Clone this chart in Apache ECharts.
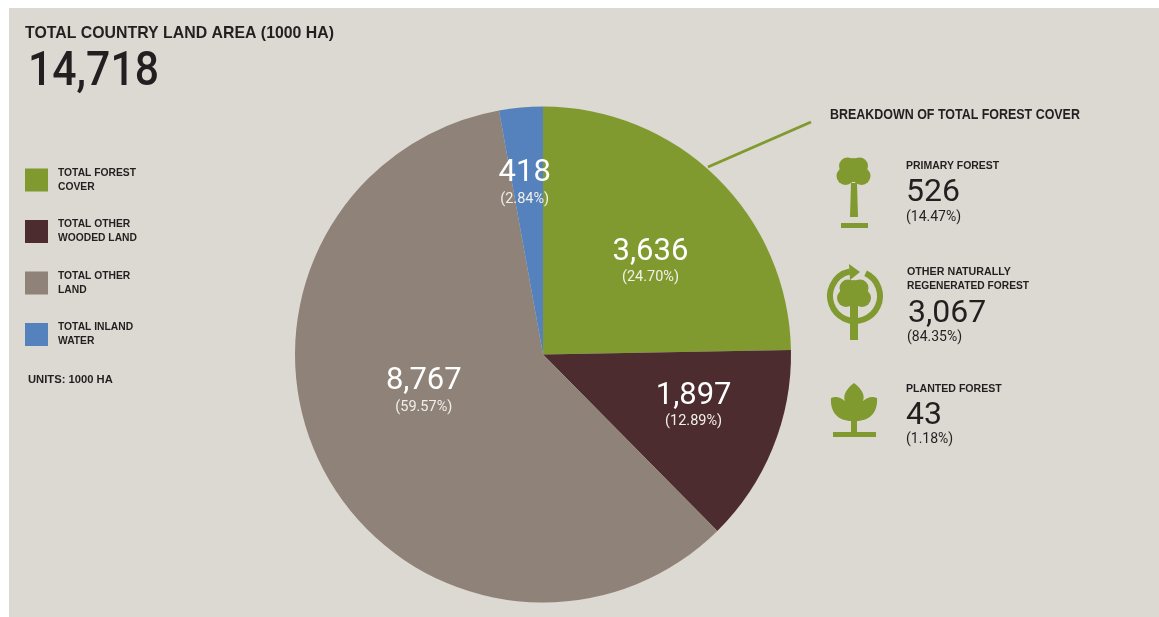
<!DOCTYPE html>
<html>
<head>
<meta charset="utf-8">
<style>
  html, body { margin: 0; padding: 0; background: #fff; }
  #main { width: 1159px; height: 617px; }
</style>
<script src="https://cdn.jsdelivr.net/npm/echarts@6/dist/echarts.min.js"></script>
</head>
<body>
<div id="main"></div>
<script>
const categories = ['Total Forest Cover', 'Total Other Wooded Land', 'Total Other Land', 'Total Inland Water'];
const legendLabels = ['TOTAL FOREST\nCOVER', 'TOTAL OTHER\nWOODED LAND', 'TOTAL OTHER\nLAND', 'TOTAL INLAND\nWATER'];
const landValues = [3636, 1897, 8767, 418];
const landPercents = ['24.70', '12.89', '59.57', '2.84'];
const totalArea = 14718;
const breakdownValues = [526, 3067, 43];
const breakdownPercents = ['14.47', '84.35', '1.18'];

const GREEN = '#809a30', INK = '#231f20';
const SANS = '"Liberation Sans", sans-serif';
const colors = [GREEN, '#4c2c2f', '#8f8278', '#5582bd'];
const labelOffsets = [[18.5, -2], [33, 3.5], [-6.5, -22], [-7, -44.5]];

function fmt(n) {
  return n.toLocaleString('en-US');
}

function txt(x, y, text, size, weight, family, sx) {
  return {
    type: 'text', x: x, y: y, scaleX: sx || 1, silent: true,
    style: {
      text: text, fill: INK,
      font: (weight || 'normal') + ' ' + size + 'px ' + (family || SANS),
      textVerticalAlign: 'middle'
    }
  };
}

function canopy(cx, cy) {
  return [[-8, 6, 9], [8, 6, 9], [-6, -4, 8.5], [6, -4, 8.5], [0, 1, 11], [0, -2, 10]].map(function (c) {
    return { type: 'circle', shape: { cx: cx + c[0], cy: cy + c[1], r: c[2] }, style: { fill: GREEN } };
  });
}

// planted forest leaves, no plain path type in graphic so register it
const leafPath = 'M854 383C845 390 843 396 845 401C840 397 836 396 831 398C830 412 838 421 852 421L856 421C870 421 878 412 877 398C872 396 868 397 863 401C865 396 863 390 854 383Z';
echarts.graphic.registerShape('leaf', echarts.graphic.extendPath(leafPath));

const graphics = [
  { type: 'rect', shape: { x: 9, y: 8, width: 1150, height: 609 }, style: { fill: '#dcd8d2' }, z: -10 },
  txt(25, 33, 'TOTAL COUNTRY LAND AREA (1000 HA)', 17, 'bold', SANS, 0.933),
  txt(28, 73, fmt(totalArea), 48, '500', 'Roboto', 0.89),
  txt(28, 380, 'UNITS: 1000 HA', 11, 'bold', SANS, 1.02),
  { type: 'line', shape: { x1: 708, y1: 167, x2: 811, y2: 122 }, style: { stroke: GREEN, lineWidth: 3 } },
  txt(830, 115, 'BREAKDOWN OF TOTAL FOREST COVER', 15, 'bold', SANS, 0.83),

  // primary forest
  txt(906, 166, 'PRIMARY FOREST', 11.5, 'bold', SANS, 0.91),
  txt(906, 193, fmt(breakdownValues[0]), 32, 'normal', 'Roboto'),
  txt(906, 217, '(' + breakdownPercents[0] + '%)', 14, 'normal', 'Roboto'),
  { type: 'polygon', shape: { points: [[851, 183], [857, 183], [858, 217], [850, 217]] }, style: { fill: GREEN } },
  { type: 'rect', shape: { x: 841, y: 223, width: 27, height: 5 }, style: { fill: GREEN } }
].concat(canopy(853.5, 170), [
  // other naturally regenerated
  txt(907, 272, 'OTHER NATURALLY', 11.5, 'bold', SANS, 0.93),
  txt(907, 286, 'REGENERATED FOREST', 11.5, 'bold', SANS, 0.89),
  txt(908, 314, fmt(breakdownValues[1]), 32, 'normal', 'Roboto'),
  txt(907, 337, '(' + breakdownPercents[1] + '%)', 14, 'normal', 'Roboto'),
  { type: 'arc', shape: { cx: 855, cy: 296, r: 25, startAngle: -65 * Math.PI / 180, endAngle: 258 * Math.PI / 180, clockwise: true }, style: { stroke: GREEN, lineWidth: 6, fill: 'none' } },
  { type: 'polygon', shape: { points: [[849, 264], [860, 272], [850, 280]] }, style: { fill: GREEN } },
  { type: 'rect', shape: { x: 850, y: 300, width: 8, height: 40 }, style: { fill: GREEN } }
], canopy(854, 292), [
  // planted forest
  txt(906, 389, 'PLANTED FOREST', 11.5, 'bold', SANS, 0.92),
  txt(906, 416, fmt(breakdownValues[2]), 32, 'normal', 'Roboto'),
  txt(906, 439, '(' + breakdownPercents[2] + '%)', 14, 'normal', 'Roboto'),
  { type: 'leaf', style: { fill: GREEN } },
  { type: 'rect', shape: { x: 851, y: 418, width: 6, height: 15 }, style: { fill: GREEN } },
  { type: 'rect', shape: { x: 833, y: 432, width: 43, height: 5 }, style: { fill: GREEN } }
]);

const pieData = categories.map(function (name, i) {
  return {
    name: name,
    value: landValues[i],
    itemStyle: { color: colors[i] },
    label: {
      offset: labelOffsets[i],
      formatter: '{v|' + fmt(landValues[i]) + '}\n{p|(' + landPercents[i] + '%)}'
    }
  };
});

const chart = echarts.init(document.getElementById('main'), null, { renderer: 'canvas' });
chart.setOption({
  backgroundColor: '#ffffff',
  animation: false,
  legend: {
    orient: 'vertical',
    left: 25,
    top: 164,
    padding: 0,
    itemWidth: 23,
    itemHeight: 23,
    itemGap: 19.5,
    icon: 'rect',
    selectedMode: false,
    data: categories,
    formatter: function (name) {
      return legendLabels[categories.indexOf(name)];
    },
    textStyle: {
      color: INK,
      fontFamily: SANS,
      fontWeight: 'bold',
      fontSize: 10.3,
      lineHeight: 14,
      padding: [4, 0, 0, 5]
    }
  },
  graphic: { elements: graphics },
  series: [{
    type: 'pie',
    center: [543, 354.5],
    radius: [0, 248],
    startAngle: 90,
    clockwise: true,
    avoidLabelOverlap: false,
    silent: true,
    label: {
      show: true,
      position: 'inside',
      color: '#fff',
      rich: {
        v: { fontFamily: 'Roboto', fontSize: 31, color: '#fff', lineHeight: 32, align: 'center' },
        p: { fontFamily: 'Roboto', fontSize: 14.5, color: '#f2efe9', lineHeight: 20, align: 'center' }
      }
    },
    labelLine: { show: false },
    data: pieData
  }]
});
</script>
</body>
</html>
